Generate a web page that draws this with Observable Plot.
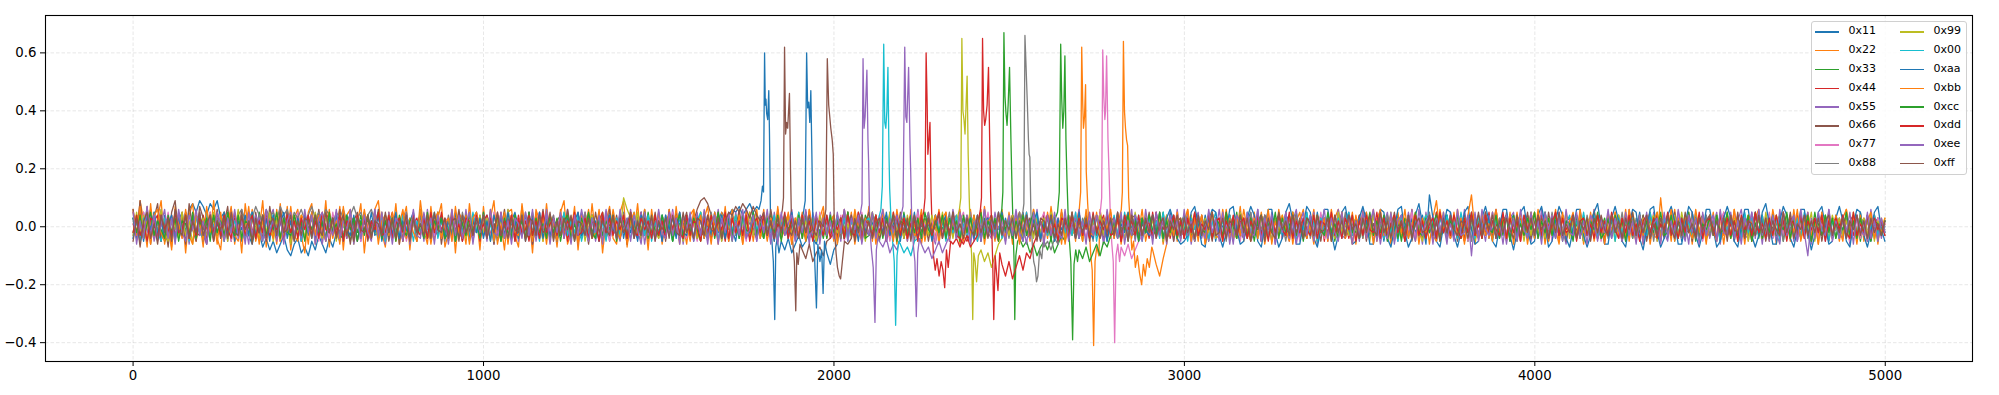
<!DOCTYPE html>
<html><head><meta charset="utf-8">
<script src="https://cdn.jsdelivr.net/npm/d3@7"></script>
<script src="https://cdn.jsdelivr.net/npm/@observablehq/plot@0.6"></script>
<style>
body{margin:0;background:#fff;}
#wrap{position:relative;width:1999px;height:395px;font-family:"DejaVu Sans",sans-serif;}
#wrap svg text{font-family:"DejaVu Sans",sans-serif !important;font-size:13.3px !important;fill:#000;}
#legend{position:absolute;left:1811px;top:21px;width:156px;height:154px;box-sizing:border-box;border:1px solid #d0d0d0;border-radius:3px;background:rgba(255,255,255,0.85);}
.lab{position:absolute;font-size:11px;line-height:12px;color:#000;white-space:nowrap;}
.sw{position:absolute;height:1.5px;width:24px;}
</style></head><body><div id="wrap"></div>
<script>
const keys = ["0x11","0x22","0x33","0x44","0x55","0x66","0x77","0x88","0x99","0x00","0xaa","0xbb","0xcc","0xdd","0xee","0xff"];
const colors = ["#1f77b4","#ff7f0e","#2ca02c","#d62728","#9467bd","#8c564b","#e377c2","#7f7f7f","#bcbd22","#17becf","#1f77b4","#ff7f0e","#2ca02c","#d62728","#9467bd","#8c564b"];
const xTicks = [0,1000,2000,3000,4000,5000];
const yTicks = [-0.4,-0.2,0,0.2,0.4,0.6];

// background trace values (hundredths), evenly spaced over samples 0..4999
const n11 = [3,-2,5,-4,1,6,-3,2,-5,4,-1,3,-4,2,5,-2,6,8,5,9,7,4,8,6,9,3,5,-2,1,-4,2,-5,-1,-3,-6,0,-2,-7,-4,-8,-5,-9,-6,-3,-8,-10,-6,-4,-9,-7,
-10,-5,-8,-3,-6,-9,-4,-7,-2,-5,1,-3,3,-1,4,-4,2,-2,5,-3,0,3,-5,2,-1,4,-3,1,-4,2,5,-2,3,-4,1,-5,2,4,-3,0,-4,3,-2,5,-1,-3,2,-5,3,1,
-2,4,-3,1,-5,3,0,-4,2,5,-1,-3,4,-2,2,-4,5,-1,3,-3,1,-5,2,4,-2,3,-4,0,5,-3,2,-1,-4,3,-2,4,-5,1,3,-2,4,-3,0,2,-4,5,-2,-1,3,-3,
2,-4,1,3,-2,5,-3,0,4,-1,-3,2,-2,4,1,-4,3,2,5,3,4,6,5,7,4,6,8,5,7,9,6,0,0,0,0,-5,-8,-4,-9,-6,-3,-7,-5,-2,-4,-6,-1,-3,2,-2,
1,-3,3,-2,4,-1,-4,2,-2,3,-3,1,4,-2,2,-5,3,0,-3,4,-1,2,-4,3,-2,5,-3,1,-2,4,-4,2,0,-3,3,-1,4,-2,2,-5,3,-1,1,-4,2,4,-3,0,-2,3,
-2,4,-3,1,5,-2,-4,2,3,-3,1,-2,4,-4,2,-1,3,-3,5,-2,0,-4,3,1,-3,4,-2,2,-5,3,-1,2,-3,4,-2,0,3,-4,2,-1,4,-3,1,-2,3,-4,5,-1,-3,2,
-2,3,-4,2,1,-3,4,-2,3,-5,2,0,-3,4,-1,3,-2,-4,2,5,-3,1,-2,4,-4,2,3,-1,-3,2,4,-2,1,-4,3,-1,2,-3,5,-2,0,3,-4,1,-2,4,-3,2,-1,3,
-4,2,5,-3,1,-2,3,-5,2,0,-3,4,-1,2,-4,3,-2,1,4,-3,2,-5,3,-1,0,4,-3,2,-2,3,-4,1,3,-3,2,-1,5,-4,2,-2,3,-1,-4,2,4,-3,1,-2,3,-4,
2,0,-3,5,-2,1,-4,3,-1,2,-3,4,-2,2,-5,3,1,-2,4,-3,0,2,-4,3,-1,-3,4,-2,2,-1,5,-4,2,-2,3,-3,1,4,-4,2,-1,3,-5,2,0,-2,4,-3,2,-4,
3,-1,2,-4,4,-2,1,-3,3,0,-4,2,-2,5,-3,1,-1,4,-4,2,-2,3,-3,1,4,-5,2,-1,3,-2,1,-4,3,-2,2,-3,4,0,-3,2,-1,4,-4,2,-2,3,-5,1,3,-2,0];
const n22 = [6,-3,9,2,-7,8,-4,3,9,-6,1,-8,7,-2,5,-9,4,8,-5,2,-7,6,-3,9,-4,-8,5,1,7,-6,3,-9,8,-2,6,-5,-1,9,-7,4,2,-6,8,-4,7,-8,3,6,-3,-9,
5,8,-6,2,-4,9,-7,3,-2,7,-8,4,6,-5,1,8,-9,3,-4,6,9,-2,-7,5,-3,8,-6,2,7,-8,4,-5,9,-1,-6,7,-4,3,8,-7,-2,6,-9,5,2,-6,8,-3,4,-8,
7,-4,3,9,-6,1,-8,5,6,-3,-7,8,-2,4,-9,6,2,-5,8,-4,3,-7,5,9,-6,-2,7,-8,4,1,-5,8,-3,6,-9,2,7,-4,-6,5,9,-7,3,-2,8,-5,4,-8,6,-3,
5,-6,2,4,-5,7,-3,1,-6,4,6,-2,-5,3,7,-4,2,-6,5,-1,-4,6,-3,5,-6,2,4,-5,3,-2,6,-4,1,-5,7,-3,2,4,-6,3,-1,5,-4,6,-2,-5,3,7,-4,2,
-5,4,-2,6,-3,5,-6,1,4,-4,7,-5,2,-3,6,-1,-4,5,-6,3,2,-5,6,-3,4,-6,1,5,-2,-4,6,-3,5,-5,2,4,-6,3,-1,6,-4,2,-5,7,-3,4,-2,-5,6,-3,
4,-6,2,5,-4,3,-5,6,-1,-3,5,-4,7,-2,3,-6,4,-3,5,-5,2,6,-4,1,-5,3,6,-2,-4,5,-3,4,-6,2,5,-4,3,-2,6,-5,1,4,-3,5,-6,2,-1,4,-5,3,
-4,6,-2,3,-5,4,-6,2,5,-3,1,-5,6,-4,3,-2,7,-5,2,-4,5,-3,4,-6,1,3,-5,6,-2,-3,4,-6,2,5,-4,3,-1,6,-5,2,-3,4,-5,3,6,-4,1,-2,5,-6,
3,-4,5,-2,6,-5,2,-3,4,-6,1,5,-4,3,-2,6,-5,2,-3,4,-6,3,9,-2,4,-5,3,-4,6,-1,-5,3,4,-6,2,-3,5,-4,1,6,-3,2,-5,4,-2,5,-4,3,-6,2,
5,-3,4,-6,2,-2,6,-5,3,-4,1,5,-3,4,-6,2,-4,6,-2,3,-5,4,-3,5,-1,-4,6,-5,3,-2,4,-6,2,5,-3,-4,10,-2,3,-5,6,-4,2,-3,5,-6,3,-2,4,-4,
-2,5,-4,3,-6,4,-3,6,-5,2,-1,4,-5,3,6,-4,2,-3,5,-6,3,-2,4,-5,6,-3,1,-4,5,-2,3,-6,4,-1,5,-4,2,-5,3,6,-4,2,-3,5,-5,3,-2,4,-6,3,-2];
const n33 = [-2,4,-3,1,5,-4,2,-1,3,-5,4,-2,2,-4,3,1,-3,5,-2,0,-4,3,-1,4,-3,2,-5,3,1,-2,4,-4,2,-1,3,-3,5,-2,-4,3,1,-3,4,-2,2,-5,3,0,-3,4,
-1,3,-4,5,-2,1,-3,4,-4,2,3,-1,-5,3,-2,4,-3,2,-1,5,-3,1,4,-4,2,-2,3,-5,4,-1,2,-3,5,-2,-4,3,1,-3,4,-2,-1,4,-5,2,3,-3,1,-4,5,-2,
3,-2,4,-3,1,-5,3,2,-4,4,-1,3,-2,-4,5,-3,2,-1,4,-4,2,1,-3,4,-2,3,-5,2,-1,3,-4,4,-2,1,5,-3,-2,4,-3,2,0,-4,3,-2,4,-1,-3,5,-2,1,
-3,4,-2,3,-5,2,1,-4,4,-2,3,-3,5,-1,-2,4,-4,2,-3,3,1,-5,4,-2,2,-3,4,-1,-4,3,2,-2,5,-3,1,-4,3,-2,4,-1,-3,2,-5,4,-2,3,1,-4,3,-3,
2,-4,3,-1,5,-3,2,-2,-4,4,1,-3,3,-5,2,4,-2,-1,3,-4,5,-2,2,-3,4,-4,1,3,-2,-5,4,-1,2,-3,3,-4,5,-2,1,-3,4,-2,-3,3,-1,2,-4,4,0,0,
0,0,0,-4,-7,-5,-9,-6,-10,-7,-5,-8,-4,-9,-6,-3,-5,2,-2,3,-4,1,4,-3,2,-2,5,-4,3,-1,-3,4,-2,2,-5,3,1,-4,3,-2,4,-3,2,-1,5,-4,-2,3,-3,2,
-1,4,-4,2,3,-3,1,-5,4,-2,2,-3,4,-1,-2,5,-4,3,-2,1,-3,4,-5,2,3,-1,-4,4,-2,3,1,-3,5,-4,2,-2,3,-1,-4,4,-2,1,3,-5,2,4,-3,-1,3,-2,
4,-3,2,-1,5,-4,3,-2,-3,4,-1,2,-5,3,1,-3,4,-2,2,-4,3,-1,5,-3,-2,4,-4,1,3,-2,2,-5,4,-1,-3,3,-2,4,-4,2,1,-3,4,-2,3,-5,2,-1,4,-3,
-2,3,-4,5,-1,2,-3,4,-5,2,3,-2,1,-4,4,-3,2,5,-4,-1,3,-3,2,-2,4,-5,1,3,-4,2,-1,4,-3,2,-2,5,-4,1,3,-3,2,-4,4,-1,-2,3,-5,2,4,-3,
1,-2,4,-4,3,-1,2,-5,3,-2,4,-3,-1,5,-4,2,-2,3,-3,1,4,-5,2,-1,3,-4,4,-2,1,-3,5,-2,-3,4,-1,2,-4,3,-2,4,-3,1,3,-5,2,-2,4,-3,2,-1,2];
const n44 = [1,-3,5,-2,3,-4,2,4,-5,1,-2,4,-3,2,-1,5,-4,3,-2,-3,4,-1,2,-5,3,1,-4,4,-2,3,-3,2,-4,5,-1,-2,3,-4,2,4,-3,1,-5,3,2,-2,4,-3,1,-4,
3,-2,4,-1,-4,2,5,-3,1,-2,4,-4,2,3,-5,1,-1,4,-3,2,-2,3,-4,1,5,-3,2,-2,4,-5,1,3,-2,4,-4,2,-1,-3,5,-2,3,-4,1,2,-3,4,-2,-1,3,-5,
2,4,-3,1,-2,5,-4,3,-1,-3,4,-2,2,-5,3,1,-4,4,-2,3,-3,2,-1,4,-5,2,3,-2,-4,4,-1,3,-3,2,5,-4,1,-2,3,-4,2,-1,4,-3,-2,5,-3,2,-4,1,
-2,3,-4,4,-1,2,-5,3,2,-3,1,4,-2,-3,4,-4,3,-1,2,-5,4,-2,3,-3,1,-4,5,-2,2,-1,-3,4,-2,3,-5,2,1,-4,4,-2,3,-3,5,-1,-2,4,-4,2,-3,3,
1,-4,2,5,-3,2,-2,4,-5,1,3,-2,4,-4,2,-1,-3,5,-2,3,-4,1,4,-3,2,0,0,0,0,0,0,0,0,0,-6,-4,-7,-3,-5,-2,2,-4,3,-1,4,-3,2,-5,3,1,
-2,4,-3,2,-4,5,-1,3,-2,-4,4,-3,1,2,-5,3,-2,4,-1,-3,5,-4,2,-2,3,-3,1,4,-4,2,-1,3,-5,2,4,-2,-3,3,-2,1,-4,5,-3,2,-1,4,-4,2,3,-3,
2,-3,4,-5,1,3,-2,4,-4,2,-1,-3,5,-2,3,-4,2,1,-3,4,-2,3,-5,4,-1,2,-3,3,-4,5,-2,1,4,-3,2,-4,3,-1,-2,4,-5,3,2,-3,4,-2,1,-4,3,-1,
4,-3,2,-1,5,-4,3,-2,-3,4,-4,2,1,-5,3,-2,4,-3,2,-1,3,-4,5,-2,1,-3,4,-4,2,3,-5,2,-1,4,-3,3,-2,5,-4,1,-2,3,-3,4,-1,2,-5,3,-2,4,
-3,2,4,-4,1,-2,5,-3,3,-1,2,-4,4,-2,-3,3,-1,5,-4,2,-2,4,-3,1,3,-5,2,-2,4,-3,1,3,-4,2,-1,4,-5,3,-2,2,-3,5,-1,-4,3,-2,2,-3,4,-4,
3,-1,2,-4,5,-3,1,-2,4,-4,2,3,-5,1,-2,4,-3,2,-1,3,-4,5,-2,2,-3,4,-4,1,3,-2,-1,4,-3,2,-5,3,2,-4,4,-2,1,-3,4,-2,3,-5,2,-1,3,-3,1];
const n55 = [-4,3,-6,5,-2,4,-5,1,6,-3,-5,2,-4,6,-1,3,-6,4,-2,5,-3,-6,4,-1,5,-4,2,-5,6,-2,3,-4,1,-6,5,-3,4,-2,-5,3,6,-4,2,-3,5,-6,1,4,-5,3,
-2,5,-4,3,-6,2,4,-3,5,-5,1,-4,6,-2,3,-5,4,-1,-3,6,-4,2,-6,5,-2,3,-4,1,5,-6,3,-2,4,-5,6,-3,-1,5,-4,2,-6,4,-2,3,-5,6,-3,1,4,-4,
5,-3,2,-6,4,-1,-4,6,-2,3,-5,4,-3,5,-6,2,1,-4,6,-3,2,-5,4,-2,6,-4,3,-6,1,5,-3,4,-5,2,-2,6,-4,3,-1,-5,4,-3,6,-2,-4,5,-6,2,3,-4,
1,-5,4,-3,6,-2,5,-6,3,-1,-4,5,-3,2,-6,4,-2,6,-5,1,3,-4,5,-2,-3,6,-4,2,-5,4,-1,3,-6,5,-2,4,-3,1,6,-5,2,-4,3,-6,5,-1,-3,4,-2,5,
-4,2,-5,6,-3,4,-1,0,0,0,0,0,0,-5,-7,-4,-9,-6,-8,-4,3,-5,2,-3,6,-4,1,5,-2,-6,4,-3,2,-5,6,-1,-4,3,-2,5,-5,4,-3,6,-2,-4,5,-1,3,-6,
4,-2,5,-4,1,-6,3,-3,6,-5,2,4,-4,3,-6,5,-2,-1,4,-3,6,-5,2,-4,3,-2,5,-6,1,4,-3,5,-4,2,-1,6,-5,3,-3,-2,4,-6,5,-1,2,-4,3,-5,6,-2,
-3,4,-6,2,5,-4,1,-5,3,-2,6,-3,4,-6,2,-1,5,-4,3,-5,-2,6,-4,1,-3,5,-6,4,-2,3,-5,2,6,-4,-1,4,-3,5,-6,2,3,-5,4,-2,6,-3,-4,5,-1,2,
-5,6,-2,4,-4,3,-6,1,5,-3,2,-5,4,-1,-3,6,-4,2,-6,5,-2,3,-5,4,1,-6,5,-3,2,-4,6,-2,-4,5,-3,1,-5,4,-2,6,-3,2,-6,3,5,-4,1,-2,4,-5,
3,-4,6,-2,-5,4,-3,5,-1,-6,2,4,-3,5,-5,1,-2,6,-4,3,-6,5,-1,2,-4,3,-5,6,-3,1,4,-6,2,-3,5,-4,3,-2,-5,6,-1,4,-4,2,-6,5,-3,3,-2,4,
-4,1,5,-6,3,-2,4,-5,2,6,-3,-4,5,-2,3,-6,4,-1,2,-5,6,-3,-2,4,-5,3,-4,1,5,-6,2,-3,4,-5,6,-2,-1,3,-4,5,-6,2,4,-3,1,-5,6,-2,3,-4,2];
const n66 = [6,-4,9,-2,7,-6,3,8,-5,2,-7,5,9,-3,4,-6,8,-1,-5,7,3,-6,5,-2,6,-4,1,7,-5,3,-3,6,-4,2,-6,5,-2,4,-5,7,-1,-4,6,-3,5,-6,2,4,-5,3,
-2,5,-4,6,-3,1,-5,4,-1,6,-4,3,-6,2,5,-3,4,-5,1,-2,6,-4,3,-5,2,4,-6,5,-1,-3,4,-5,6,-2,3,-4,1,5,-6,2,-3,4,-2,6,-5,3,-1,-4,5,-3,
4,-2,5,-6,3,-1,6,-4,2,-5,1,4,-3,5,-6,2,-2,6,-4,3,-5,2,4,-3,6,-1,-4,5,-2,3,-6,4,1,-5,3,-3,6,-2,4,-4,2,-6,5,-1,3,-4,6,-3,-2,5,
-4,3,-5,6,-2,4,-3,1,5,-4,2,6,9,10,8,4,-3,5,-2,3,-5,4,-1,6,-3,2,-4,5,-2,3,4,-3,6,-1,-4,0,0,0,0,0,0,-8,-11,-6,-12,-9,-7,-10,-5,-4,
-2,3,-4,2,-1,4,-5,3,-2,1,5,-3,2,-4,3,-1,4,-2,-3,5,-4,2,1,-3,4,-2,3,-5,2,-1,4,-3,3,-2,5,-4,1,-2,4,-3,2,-5,3,1,-2,4,-4,3,-1,2,
-3,4,-2,5,-4,1,3,-3,2,-5,4,-1,-2,3,-4,5,-3,2,1,-4,3,-2,4,-5,2,-1,3,-4,5,-2,-3,4,-1,2,-5,3,4,-3,1,-2,5,-4,2,-3,3,-1,4,-5,2,3,
-4,2,-1,5,-3,4,-2,1,-5,3,2,-4,4,-2,3,-3,5,-1,-4,2,1,-3,4,-5,3,-2,2,4,-4,1,-2,5,-3,3,-1,-4,4,-2,2,-5,3,1,-3,4,-2,5,-4,2,-1,3,
-3,4,-5,2,1,-2,4,-4,3,-1,5,-3,2,-2,4,-5,1,3,-4,2,-1,4,-3,5,-2,2,-4,3,-5,1,4,-2,3,-3,2,-4,5,-1,-2,3,-4,2,4,-5,1,-3,3,-2,5,-4,
2,-1,3,-4,5,-2,2,-3,4,-5,1,3,-2,4,-4,2,-1,5,-3,3,-5,2,-2,4,-1,3,-4,5,-3,1,-2,4,-5,2,3,-3,1,-4,4,-2,5,-3,2,-1,3,-5,4,-2,1,-3,
4,-2,3,-5,2,-1,4,-3,5,-4,2,1,-3,4,-2,3,-5,2,-1,4,-4,3,-2,5,-3,1,-4,2,4,-5,3,-1,2,-4,5,-3,1,-2,3,-4,2,4,-5,3,-1,2,-3,4,-2,1,-3];
const n77 = [-3,4,-2,5,-5,2,3,-4,1,-2,5,-3,4,-1,-4,3,-5,2,4,-3,1,-2,5,-4,3,-1,-3,4,-5,2,3,-4,2,-2,5,-3,1,4,-4,2,-1,3,-5,4,-2,2,-3,5,-1,-4,
4,-2,3,-5,1,2,-4,5,-3,3,-2,-1,4,-4,2,-5,3,1,-3,4,-2,5,-4,2,-1,3,-3,4,-5,1,2,-4,3,-2,5,-1,-3,4,-4,2,3,-5,1,-2,4,-3,2,-4,5,-1,
-2,3,-4,5,-3,1,2,-5,4,-2,3,-1,-3,4,-4,2,5,-3,1,-2,4,-5,3,-1,2,-4,4,-2,-3,5,-1,2,-4,3,-2,4,-5,1,3,-3,2,-2,5,-4,1,-3,4,-1,2,-5,
3,-4,2,-1,5,-3,4,-2,-4,3,1,-5,4,-2,2,-3,5,-1,-3,4,-4,2,3,-2,1,-5,4,-3,2,-1,5,-4,3,-2,-3,4,-1,2,-5,3,-2,4,-3,1,2,-4,5,-2,3,-3,
1,-2,4,-5,3,-1,2,-4,5,-3,2,-2,-3,4,-1,3,-5,2,4,-4,1,-3,3,-2,5,-4,2,-1,3,-5,4,-2,1,-3,4,-4,2,5,-3,-1,3,-4,2,-2,5,-3,1,-4,3,-2,
4,-3,2,-5,3,-1,-2,4,-4,2,5,-3,1,-2,3,-4,4,-1,-3,5,-2,2,-4,3,-1,4,0,0,0,0,0,0,-7,-10,-6,-11,-8,-5,-3,2,-2,3,-4,1,4,-3,2,-2,5,-4,
2,-1,3,-5,4,-2,1,-3,5,-4,3,-2,-1,4,-3,2,-5,3,1,-2,4,-4,2,-3,5,-1,-2,3,-4,4,-3,1,2,-5,3,-2,4,-1,-3,5,-4,2,-2,3,1,-4,4,-3,2,-1,
-3,5,-2,1,-4,3,-1,4,-5,2,2,-3,4,-2,-1,5,-4,3,-3,1,-2,4,-5,2,3,-1,-4,4,-2,3,1,-5,3,-2,4,-3,2,-1,5,-4,-2,3,-3,4,-1,2,-5,3,1,-2,
4,-4,2,-1,3,-5,1,3,-2,4,-3,2,-4,5,-2,-1,3,-3,4,-5,2,1,-2,4,-4,3,-1,5,-3,2,-4,3,-2,1,4,-5,3,-1,-2,4,-3,5,-4,2,-1,3,-2,4,-5,1,
-1,3,-4,2,5,-3,-2,4,-4,1,3,-5,2,-2,4,-1,-3,5,-4,2,1,-3,4,-2,3,-5,2,-1,4,-3,3,-4,1,-2,5,-3,2,-4,4,-1,-5,3,2,-4,1,-2,4,-3,3,-2,1];
const n88 = [2,-3,4,-1,3,-4,5,-2,1,3,-4,2,-1,4,-3,5,-2,2,-4,3,1,-3,4,-2,3,-1,5,-4,2,-2,4,6,2,5,3,7,4,1,6,3,5,2,7,4,6,1,5,3,6,2,
4,7,3,5,2,6,4,1,5,3,6,2,4,7,3,5,1,4,6,2,3,-2,4,-3,1,-4,3,-1,5,-2,2,-4,3,1,-3,4,-2,-1,3,-5,4,-2,2,-3,5,-1,-4,3,-2,4,
-3,1,4,-4,2,-2,3,-5,4,-1,2,-3,5,-2,-1,4,-4,3,-2,1,4,-5,2,-3,3,-1,4,-2,-4,5,-2,3,-3,1,4,-4,2,-1,3,-3,5,-2,1,-4,3,-2,4,-5,2,1,
-3,4,-2,3,-4,1,5,-3,2,-2,4,-4,3,-1,-3,5,-2,2,-4,3,-1,4,-3,2,-5,3,1,-2,4,-4,2,-1,3,-3,5,-4,2,-2,3,-1,-4,4,-2,1,3,-5,2,-3,4,-2,
3,-1,-4,4,-2,2,-3,5,-1,-2,3,-4,4,-2,1,-3,5,-4,2,-1,3,-2,4,-5,2,1,-3,4,-2,3,-4,2,-1,5,-3,2,-4,3,-2,4,-1,-3,3,-4,2,1,-2,4,-3,2,
-4,3,-2,5,0,0,0,0,0,0,-7,-5,-8,-4,-6,2,-3,4,-2,1,-4,3,-1,2,-5,4,-3,2,-1,3,-4,5,-2,1,-3,4,-4,2,3,-2,-1,4,-3,2,-5,3,-2,4,-1,-3,
4,-2,3,-4,1,2,-3,5,-4,2,-1,3,-5,4,-2,1,-3,3,-4,5,-2,2,-1,4,-3,2,-4,3,1,-5,3,-2,4,-1,-3,5,-4,2,-2,3,-3,1,4,-4,2,-2,5,-3,1,-1,
3,-4,2,-2,5,-3,1,-4,4,-1,-3,2,3,-5,4,-2,2,-1,3,-4,5,-3,1,-2,4,-4,2,-3,3,-1,-2,4,-5,3,1,-3,4,-2,2,-4,3,-1,5,-4,2,-2,-3,4,-1,3,
-4,2,-2,3,-3,5,-1,-2,4,-4,1,3,-3,2,-5,4,-2,1,3,-3,2,-4,4,-1,-2,5,-3,2,-4,3,-1,2,-3,4,-5,3,-2,1,4,-3,2,-1,-4,3,-2,5,-3,2,-1,4,
-3,2,-5,4,1,-2,3,-4,2,-1,4,-3,3,-2,5,-4,1,-1,3,-3,2,-5,4,-2,3,-1,-3,4,-4,2,1,-2,5,-3,2,-4,3,-1,-2,4,-4,3,-2,2,-3,4,-1,3,-5,2,-1];
const n99 = [-3,5,-2,4,-5,1,3,-4,6,-2,-5,3,1,-4,5,-3,2,-6,4,-1,3,-4,2,5,-3,-1,4,-5,3,-2,6,-4,2,-3,5,-1,-4,3,-2,5,-5,2,4,-3,1,-6,3,-2,4,-4,
2,-3,5,-1,-4,4,-2,3,-5,2,1,-3,4,-6,3,-1,5,-4,2,-2,-3,5,-2,4,-4,1,3,-5,2,-1,4,-3,6,-2,-4,3,-1,5,-3,2,-5,4,-2,1,3,-4,5,-3,-1,4,
-2,3,-5,4,-1,2,-4,6,-3,1,-4,5,-2,3,-3,-1,4,-5,2,3,-4,2,-3,5,-1,-2,4,-4,3,-5,2,4,-3,1,-5,3,-2,4,-1,-3,10,6,3,-2,5,-4,2,-3,4,-1,
-4,3,-2,5,-3,1,4,-5,2,-2,3,-4,5,-1,-3,4,-2,2,-5,3,1,-3,4,-4,2,-1,5,-3,3,-2,-4,4,-1,2,-5,3,-2,4,-3,1,5,-4,2,-2,3,-5,4,-1,-3,2,
4,-2,3,-4,1,-3,5,-2,2,-5,3,-1,4,-3,2,-4,5,-2,-1,3,-4,4,-2,1,-5,3,2,-3,4,-1,-2,5,-3,2,-4,3,0,0,0,0,0,0,-8,-12,-9,-14,-10,-6,-4,2,
-3,4,-2,3,-5,2,1,-4,4,-2,3,-3,5,-1,-2,4,-4,2,-3,1,4,-5,3,-2,2,-1,4,-3,5,-4,1,-2,3,-4,2,-3,5,-1,-4,4,-2,2,-1,3,-5,4,-3,2,1,-4,
3,-1,4,-5,2,-3,3,-2,5,-4,1,2,-3,4,-2,-4,5,-1,3,-3,2,-4,4,-2,1,-5,3,-1,4,-2,-3,5,-4,2,-1,3,-2,4,-5,1,3,-3,2,-4,5,-2,1,-3,4,-1,
-4,3,2,-5,4,-1,-2,3,-3,5,-2,1,4,-4,2,-3,3,-1,-5,4,2,-2,3,-4,5,-3,1,-2,4,-4,3,-1,2,-5,4,-3,2,-2,5,-1,-3,4,-4,1,3,-2,2,-5,3,-3,
5,-2,1,-4,3,-3,4,-1,-2,5,-4,2,-3,4,-5,3,1,-2,4,-4,2,-1,3,-5,4,-2,2,-3,5,-1,-4,3,-2,1,4,-5,3,-1,2,-3,4,-4,5,-2,1,-3,3,-2,4,-5,
2,-3,4,-1,-2,5,-4,3,-3,1,4,-5,2,-2,3,-4,5,-1,-3,4,-2,1,3,-4,2,-3,4,-2,-1,5,-5,3,-2,2,-4,4,-1,3,-3,2,-4,5,-2,1,3,-3,4,-5,2,-1,3];
const n00 = [-4,2,-5,3,1,-3,4,-2,-5,3,2,-4,5,-1,-3,4,-5,2,3,-2,-4,5,-3,1,-2,4,-5,3,-1,2,-3,4,-4,2,5,-3,1,-5,3,-2,4,-1,-4,3,-2,5,-3,2,-5,1,
3,-4,2,-2,4,-5,1,3,-3,2,-5,4,-1,-2,3,-4,5,-3,2,-1,-4,3,-5,2,4,-2,-3,4,-1,3,-5,2,-2,4,-3,1,5,-4,2,-3,-1,4,-5,3,-2,2,-4,5,-1,-3,
4,-3,1,-5,3,-2,4,-4,2,-1,-3,5,-2,3,-4,1,-5,4,-2,2,3,-4,-1,5,-3,2,-2,4,-5,1,-3,3,-4,2,1,-5,4,-2,3,-3,2,-1,-4,5,-2,3,-3,4,-5,2,
-2,4,-3,1,-5,3,2,-4,4,-1,-3,2,5,-4,1,-2,3,-5,4,-3,2,-1,4,-4,3,-2,-3,5,-1,2,-4,3,-2,4,-5,1,3,-3,2,-4,5,-2,-1,3,-4,2,-3,4,-2,1,
-3,4,-2,3,-5,2,-1,4,-4,2,3,-3,1,0,0,0,0,0,0,-6,-9,-7,-10,-5,-4,3,-3,2,-4,4,-1,2,-5,3,-2,4,-3,1,-4,3,2,-5,4,-1,-3,3,-2,5,-4,2,
-1,3,-4,2,-2,5,-3,1,4,-4,2,-3,3,-1,-5,4,-2,2,-3,5,-4,1,3,-2,4,-5,2,-1,3,-3,4,-2,-4,5,-1,2,-3,4,-5,1,3,-2,2,-4,5,-3,1,-2,4,-4,
2,-5,3,-1,4,-3,2,-4,1,5,-3,2,-2,4,-4,3,-1,-3,5,-2,1,-4,4,-2,3,-5,2,1,-3,4,-2,3,-4,2,-1,5,-3,2,-5,3,-2,4,-1,-3,3,-4,2,5,-3,1,
-4,3,-2,4,-3,1,5,-4,2,-2,3,-5,4,-1,2,-3,3,-4,1,4,-2,2,-5,3,-1,4,-3,2,-4,5,-1,-2,3,-4,4,-3,1,2,-5,3,-2,4,-3,1,3,-4,2,-1,-3,5,
-4,2,-1,3,-5,4,-2,3,-3,1,4,-4,2,-2,5,-3,-1,4,-4,2,1,-3,4,-5,3,-2,2,-1,4,-4,3,-2,-3,5,-1,2,-4,3,-2,4,-5,1,3,-3,2,-4,5,-2,1,-3,
4,-2,2,-5,3,-1,4,-3,1,-4,5,-2,3,-3,-1,4,-4,2,-2,3,-5,4,-1,2,-3,3,-4,5,-2,1,-3,4,-2,3,-5,2,1,-4,4,-1,-2,3,-4,5,-3,2,-1,4,-3,2,-2];
const naa = [3,-4,2,-5,4,-1,5,-3,2,-4,1,4,-5,3,-2,5,-4,2,-3,4,-5,2,3,-4,1,-2,5,-3,4,-5,2,-1,4,-3,5,-4,2,-2,3,-5,4,-3,1,5,-4,2,-5,3,-1,4,
-3,5,-4,2,1,-5,3,-2,4,-4,5,-1,-3,4,-5,2,3,-4,2,-2,4,-5,1,3,-3,5,-4,2,-1,-4,3,-2,5,-3,2,-5,4,-1,3,-4,2,-3,5,-4,1,4,-5,2,-2,3,
-4,2,-5,4,-1,3,-3,5,-2,2,-4,4,-5,1,3,-2,5,-4,2,-3,1,-5,4,-2,3,-4,2,5,-3,-1,4,-4,2,-5,3,-2,4,-1,-3,5,-4,3,-2,2,-5,4,1,-3,3,-4,
2,-5,4,-1,3,-4,5,-2,-3,4,-5,3,2,-4,1,-3,5,-2,4,-4,2,-1,-5,3,-3,4,-2,5,-4,1,3,-3,2,-5,4,-2,1,-4,5,-3,2,0,0,0,0,0,0,0,-9,-13,
-8,-6,3,-4,5,-2,2,-5,4,-1,-3,4,-4,2,-2,5,-3,1,3,-5,4,-2,-3,5,-4,2,-1,3,-5,4,-2,1,4,-4,3,-3,5,-2,-1,3,-4,4,-5,2,3,-3,1,-4,5,-2,
2,-4,3,-1,-5,4,-3,2,5,-4,1,-2,4,-5,3,-3,2,-1,4,-4,5,-3,2,-2,-4,4,-1,3,-5,2,3,-4,1,-2,5,-3,4,-5,2,-1,-3,4,-2,5,-4,3,6,2,-4,-6,
-5,-3,5,7,1,-6,-7,2,6,5,-3,-7,-2,6,7,-1,-6,-5,3,7,4,-5,-7,0,6,6,-2,-7,-4,5,8,2,-6,-6,1,7,5,-4,-7,-1,6,6,-2,-8,-3,5,7,0,-6,-5,
3,7,2,-6,-6,1,6,5,-4,-7,-1,6,7,-2,-7,-4,4,8,1,-6,11,3,-5,-7,0,6,5,-3,-7,-2,5,7,-1,-6,-5,3,7,2,-5,-7,0,6,6,-3,-8,-2,5,7,-1,-6,
-5,4,7,1,-7,-5,2,7,4,-4,-7,-1,6,6,-3,-7,-3,5,8,0,-6,-6,3,7,2,-5,-7,1,6,5,-4,-8,-1,6,7,-2,-7,-4,4,7,2,-6,-6,1,7,5,-3,-7,-2,6,
6,-1,-7,-5,3,7,3,-5,-7,0,6,6,-3,-7,-3,5,8,1,-6,-6,2,7,4,-4,-7,-1,6,6,-2,-8,-3,5,7,0,-6,-5,3,7,2,-5,-7,1,6,5,-3,-7,-2,5,7,-1,-5];
const nbb = [5,-3,7,-4,2,-6,4,6,-2,-5,3,-7,5,1,-4,6,-3,-6,4,2,-5,7,-2,3,-6,5,-4,1,6,-3,-5,4,-2,7,-4,3,-6,2,5,-1,-4,6,-5,3,-2,7,-3,-5,4,2,
-6,5,-3,4,-1,-5,6,-4,2,-6,7,-2,3,-5,4,-3,6,-1,-4,5,-6,2,4,-3,5,-5,1,6,-4,3,-2,-5,6,-3,4,-6,2,5,-4,1,3,-5,7,-2,-4,4,-6,3,5,-3,
2,-4,6,-5,3,-1,5,-6,4,-2,-3,7,-4,2,-5,5,-2,3,-6,4,1,-5,6,-3,2,-4,5,-6,3,-1,6,-4,-2,5,-5,3,-3,6,-1,-4,4,-6,2,5,-3,-2,6,-5,3,-4,
5,-2,-4,6,-3,4,-6,2,1,-5,6,-3,4,-4,2,-6,5,-1,-3,7,-5,3,-2,4,-6,5,-3,1,6,-4,2,-5,3,-2,6,-4,-1,5,-6,3,-3,4,-5,6,-2,2,-4,5,-3,1,
4,-6,3,-2,5,-4,6,-1,-5,3,-3,5,-6,2,4,-4,1,-5,6,-2,3,-4,5,-3,-2,6,-5,2,-1,4,-6,3,5,-4,2,-3,6,-5,1,-2,4,-3,6,-6,2,3,-5,4,-1,-4,
5,-2,3,-6,4,-1,-4,6,-3,2,-5,5,-2,3,-4,6,-6,1,4,-3,2,-5,6,-2,-3,5,-4,3,-1,6,-4,2,0,0,0,0,0,0,0,0,0,-8,-13,-17,-11,-6,3,-3,5,-4,
2,6,-5,3,-2,4,-6,1,5,-3,-4,6,-2,3,-5,4,-3,6,-1,-5,3,-4,5,-2,6,-6,2,-3,4,-1,-5,5,-3,2,6,-4,1,-6,4,-2,3,-5,6,-1,-3,5,-4,2,-6,4,
-2,5,-4,3,-6,2,6,-3,-1,4,-5,3,-2,6,-4,1,5,-6,3,-2,4,-3,-5,6,-1,2,-4,5,-3,3,-6,4,11,-2,-4,5,-3,1,-5,6,-2,3,-4,5,-6,2,4,-3,-1,5,
-4,6,-2,3,-5,4,-1,-6,5,-3,2,4,-4,6,-2,-3,5,-5,1,3,-6,4,-2,5,-3,2,-4,6,-1,-5,3,-3,4,-6,2,5,-4,1,-2,6,-5,3,-3,4,-1,-4,6,-2,3,-6,
4,-1,-5,5,-3,2,-4,6,-2,3,-6,4,1,-3,5,-4,2,-5,6,-1,-3,5,-4,3,-2,6,-5,1,4,-3,2,-6,5,-2,3,-4,4,-1,-5,6,-2,3,-6,4,-3,2,5,-4,1,-2,3];
const ncc = [3,-2,4,-4,1,5,-3,2,-1,-4,4,-2,3,-5,2,1,-3,4,-4,2,-1,3,-5,4,-2,2,-3,5,-1,-3,4,-4,2,1,-5,3,-2,4,-3,2,-1,5,-4,3,-2,-3,4,-1,2,-5,
3,-1,4,-3,2,-4,5,-2,1,-3,-4,4,-1,3,-5,2,-2,4,-3,1,5,-4,2,-2,3,-5,4,-1,-3,2,4,-3,1,-4,5,-2,2,-1,3,-4,-2,4,-5,3,1,-3,4,-2,2,-4,
5,-3,2,-1,4,-5,3,-2,-3,4,-1,2,-4,5,-3,3,-2,1,-4,4,-2,3,-5,2,4,-4,1,-3,3,-1,5,-2,-4,3,-3,2,-1,4,-5,3,2,-4,4,-2,1,-3,5,-4,2,-1,
-3,4,-2,3,-5,1,4,-4,2,-2,3,-1,-5,4,-3,2,-2,5,-4,1,3,-3,2,-4,4,-1,-2,5,-3,2,-4,3,1,-2,4,-5,3,-1,2,-3,4,-4,5,-2,-1,3,-3,2,-4,4,
-2,1,3,-4,5,-3,2,-1,4,-4,-3,5,-2,2,-4,3,-1,4,-5,2,1,-3,4,-2,3,-4,5,-1,-3,2,-2,4,-4,3,-1,2,-5,4,-2,3,-3,1,5,-4,2,-2,3,-5,4,-1,
3,-4,2,-2,4,-3,1,5,-4,2,-1,3,-5,4,0,0,0,0,0,0,-8,-11,-7,-12,-9,-6,-10,-5,-7,-3,2,-4,3,-1,4,-3,2,-5,3,-2,4,-1,-3,5,-4,2,-2,3,-4,1,
4,-3,2,-5,3,-1,-2,4,-4,3,1,-3,5,-2,2,-4,4,-1,-3,3,-5,2,4,-3,1,-2,5,-4,3,-2,-1,4,-3,2,-5,3,2,-4,4,-1,-3,5,-2,1,-4,3,-3,4,-2,2,
-4,3,-1,5,-3,2,-2,4,-5,1,3,-4,2,-1,4,-3,5,-2,-3,3,-2,1,4,-5,3,-3,2,-1,4,-4,2,-2,5,-3,1,-4,3,-1,-2,4,-4,2,3,-5,4,-2,1,-3,3,-1,
5,-4,2,-2,3,-3,4,-1,-4,2,1,-5,4,-2,3,-3,2,-1,5,-4,-2,3,-3,4,-1,2,-5,3,1,-3,4,-2,2,-4,3,-1,5,-3,-2,4,-3,1,2,-4,5,-2,3,-4,1,-1,
3,-3,4,-2,-1,5,-4,2,-3,3,-2,4,-5,1,3,-4,2,-2,4,-3,1,-1,5,-4,2,-3,3,-2,4,-5,2,1,-3,4,-2,3,-4,1,-1,5,-3,2,-4,3,-2,4,-5,2,1,-3,2];
const ndd = [-2,4,-3,1,-5,3,2,-4,4,-1,3,-3,5,-2,-1,4,-4,2,-3,3,1,-5,4,-2,2,-3,4,-1,-4,5,-2,3,-3,1,4,-4,2,-2,5,-3,1,-1,3,-5,4,-2,2,-4,3,-1,
4,-3,2,-4,5,-1,-2,3,-3,4,-5,2,1,-3,4,-2,3,-4,2,-1,5,-3,-2,4,-4,1,3,-5,2,-2,4,-1,-3,3,-4,5,-2,2,-1,3,-4,4,-2,1,-5,3,2,-3,4,-2,
1,-4,3,-2,5,-3,2,-1,4,-5,3,-2,-1,4,-3,2,-4,5,-2,1,3,-3,4,-4,2,-1,5,-3,-2,3,-4,2,1,-5,4,-2,3,-3,2,-1,4,-4,5,-2,-3,3,-1,2,-4,4,
-3,2,-4,5,-1,3,-2,-4,4,-3,2,1,-5,3,-2,4,-3,2,-1,5,-4,3,-2,2,-3,4,-5,1,3,-2,4,-3,2,-4,1,-1,5,-4,3,-2,-3,4,-2,2,-5,3,1,-3,4,-4,
2,-1,3,-4,4,-2,-3,5,-4,2,1,-3,4,-2,3,-5,2,-1,4,-3,3,-4,1,2,-5,4,-2,3,-3,1,5,-4,2,-2,3,-3,-4,-6,-3,-7,-5,-3,0,0,0,0,0,0,-13,-17,
-12,-18,-14,-10,-15,-9,-11,-6,-3,2,-2,4,-3,1,-5,3,2,-4,4,-2,3,-3,1,-4,5,-2,2,-1,4,-3,-2,3,-5,4,-1,2,-3,4,-4,2,1,-3,5,-2,3,-4,-1,4,-3,2,
-4,3,-2,5,-3,1,-1,4,-4,2,3,-5,2,-2,4,-3,1,3,-4,2,-1,4,-3,2,-5,3,-2,4,-1,-3,5,-4,2,-2,3,-1,-3,4,-4,2,1,-2,5,-3,2,-4,3,-1,4,-5,
2,-3,4,-1,-2,5,-4,3,-3,1,4,-2,2,-5,3,-1,4,-3,2,-4,1,3,-4,5,-2,2,-3,4,-1,-4,3,-2,5,-3,1,-4,4,-2,2,-1,-3,5,-4,3,-2,2,-5,4,-1,3,
-2,4,-3,2,-4,1,5,-3,3,-2,-1,4,-5,2,3,-3,1,-4,4,-2,2,-3,5,-1,-4,3,-2,4,-3,1,-5,2,4,-2,3,-4,1,-1,5,-3,2,-4,3,-2,4,-1,-3,5,-4,2,
3,-1,-4,4,-2,3,-3,2,-5,4,-1,2,-3,5,-2,1,-4,3,-3,4,-2,2,-5,3,1,-3,4,-4,2,-1,3,-2,4,-5,2,-3,3,-1,4,-2,-4,5,-3,1,-2,4,-4,3,-1,2,-3];
const nee = [5,-6,2,-4,7,-3,4,-5,1,6,-4,3,-6,5,-2,-5,4,-1,6,-3,2,-6,4,-4,5,1,-5,3,-2,6,-4,2,-6,5,-3,4,-1,-5,6,-2,3,-5,4,-6,2,5,-3,1,-4,6,
-2,4,-6,3,5,-5,1,-3,6,-4,2,-1,5,-6,3,-4,4,-2,-5,6,-3,5,-4,2,-6,3,1,-5,4,-2,6,-3,-4,5,-1,3,-6,4,-2,2,-5,6,-3,4,-4,1,5,-6,3,-2,
4,-5,6,-2,-3,5,-4,2,-6,3,1,-4,5,-3,6,-5,2,-1,4,-6,3,-2,5,-4,1,-6,4,-3,6,-1,-5,3,-2,4,-6,5,-3,1,-4,6,-2,3,-5,4,-1,-6,5,-3,2,-4,
6,-2,-4,5,-3,3,-6,4,-1,5,-5,2,-3,6,-4,1,4,-6,3,-2,5,-5,2,-3,6,-4,-1,4,-5,3,-2,6,-4,2,-6,5,-3,1,4,-5,3,-2,6,-4,-1,5,-6,3,-3,2,
-4,5,-2,6,-5,3,-1,4,-6,2,-3,5,-4,1,6,-5,3,-2,4,0,0,0,0,0,0,-6,-9,-7,-11,-8,-5,-9,-6,-3,3,-4,5,-2,4,-6,1,3,-5,6,-3,2,-4,5,-1,-5,
4,-3,6,-2,-5,3,-4,5,-1,2,-6,4,-3,5,-2,-4,6,-5,1,3,-4,2,-6,5,-3,4,-1,-5,6,-2,3,-4,5,-6,2,-3,4,1,-5,6,-2,-4,5,-3,3,-6,4,-1,2,-5,
6,-3,2,-5,4,-1,-4,6,-2,3,-5,5,-3,2,-6,4,1,-4,5,-2,-3,6,-5,3,-1,4,-6,2,-2,5,-4,3,-6,1,5,-3,4,-5,2,-1,6,-4,3,-2,-5,5,-3,4,-6,2,
-3,5,-4,1,6,-5,3,-2,-4,5,-6,2,4,-3,5,-1,-5,6,-3,2,4,-6,3,-2,5,-4,1,-5,6,-3,-2,4,-10,3,-5,6,-1,-3,5,-4,2,-6,4,-2,3,-5,6,-1,-4,5,
-3,2,-6,5,-1,4,-4,3,-5,6,-2,-3,5,-4,2,-6,4,1,-5,3,-2,6,-4,3,-1,-5,5,-3,2,-6,4,-2,5,-4,1,3,-6,5,-3,2,-4,6,-1,-5,4,-2,3,-6,5,-3,
1,4,-5,6,-2,-3,5,-4,2,-6,3,-1,5,-4,6,-3,2,-5,4,-2,-6,5,-3,1,4,-5,6,-2,-10,3,-4,5,-1,-3,6,-5,2,-4,3,-2,5,-6,4,-1,-3,5,-4,2,-5,3,-2];
const nff = [-5,3,-7,2,5,-4,1,-6,4,-2,3,-5,6,-1,-3,4,-4,2,-2,5,-3,1,4,-5,2,-1,3,-4,5,-2,-3,4,-1,2,-5,3,-2,4,-4,1,3,-3,5,-2,-1,4,-5,2,-3,3,
2,-4,4,-1,-3,5,-2,3,-4,1,4,-3,2,-5,3,-1,-2,4,-4,2,1,-3,5,-2,3,-4,2,-1,4,-5,3,-2,1,-3,4,-4,5,-1,-2,3,-4,2,3,-5,4,-2,1,-3,3,-1,
4,-4,2,-2,5,-3,1,-4,3,-1,-2,4,-5,3,2,-3,4,-2,-1,5,-4,2,-3,3,-1,4,-5,2,1,-3,3,-4,5,-2,2,-1,-3,4,-4,3,-2,1,5,-4,2,-3,3,-2,4,-5,
2,-1,3,-4,4,-2,-3,5,-2,1,-4,3,2,-3,4,-1,-2,3,-4,2,5,4,7,5,8,6,3,7,4,2,5,-3,2,-4,3,-2,4,-1,-3,2,-4,3,-2,4,-1,-3,2,0,0,0,
0,0,0,-9,-6,-4,3,-2,4,-3,2,-4,1,3,-3,2,-1,4,-4,2,-2,3,-5,4,-1,2,-3,3,-2,1,4,-4,2,-3,5,-2,1,-4,3,-1,-3,4,-2,2,-4,3,-1,5,-3,2,
-1,3,-4,2,-2,4,-3,1,-5,3,2,-2,4,-4,1,-3,3,-1,5,-4,2,-2,3,-3,4,-1,-4,2,-2,3,-3,5,-2,1,-4,4,-1,2,-3,3,-2,4,-4,1,3,-5,2,-1,4,-3,
3,-2,1,-4,4,-3,2,-1,5,-3,-2,3,-4,2,1,-3,4,-2,3,-5,2,-1,4,-3,3,-2,-4,5,-1,2,-3,4,-2,2,-4,3,1,-3,4,-2,-1,3,-5,4,-2,2,-3,4,-1,1,
-4,3,-2,4,-1,-3,5,-2,2,-4,3,-1,2,-3,4,-4,1,3,-2,-1,4,-3,2,-5,3,-2,4,-1,-3,2,1,-4,3,-2,5,-3,2,-1,4,-4,2,-2,3,-1,-4,4,-3,2,-2,3,
-3,4,-1,2,-4,3,-2,5,-3,1,-2,4,-4,2,-1,3,-5,3,-2,4,-1,-3,4,-2,2,-4,3,-1,5,-3,2,-2,4,-4,1,-3,3,-2,4,-1,-4,2,-3,5,-2,1,-4,3,-1,2,
4,-3,2,-2,3,-5,4,-1,-2,3,-4,2,1,-3,4,-2,3,-4,2,-1,-3,5,-2,3,-4,1,-1,4,-3,2,-2,3,-5,2,4,-3,1,-2,3,-4,2,-1,4,-3,2,-4,3,-2,1,-3,2];

// leakage peaks: [sample, correlation]
const s11 = [[1786,0.06],[1792,0.09],[1796,0.14],[1799,0.12],[1802,0.60],[1804,0.42],[1806,0.44],[1808,0.39],[1811,0.37],[1814,0.47],[1816,0.32],[1819,0.02],[1823,-0.05],[1827,-0.12],[1831,-0.32],[1834,-0.07],[1838,-0.04],[1843,-0.09]];
const s22 = [[2694,0.03],[2700,0.06],[2704,0.12],[2707,0.62],[2710,0.42],[2712,0.34],[2715,0.38],[2718,0.49],[2720,0.19],[2724,0.08],[2729,-0.02],[2733,-0.10],[2737,-0.15],[2741,-0.41],[2745,-0.12],[2750,-0.07],[2756,-0.10]];
const s33 = [[2474,0.03],[2479,0.06],[2482,0.12],[2485,0.67],[2488,0.45],[2491,0.39],[2494,0.35],[2497,0.42],[2501,0.55],[2505,0.30],[2508,0.14],[2511,0.0],[2514,-0.12],[2516,-0.32],[2519,-0.10],[2524,-0.05]];
const s44 = [[2250,0.02],[2256,0.05],[2260,0.10],[2263,0.60],[2266,0.42],[2268,0.25],[2271,0.30],[2274,0.36],[2277,0.12],[2280,0.0],[2284,-0.10],[2289,-0.15],[2294,-0.11],[2300,-0.17],[2306,-0.12],[2311,-0.15],[2316,-0.21],[2321,-0.08],[2326,-0.14],[2333,-0.05]];
const s55 = [[2068,0.02],[2076,0.05],[2080,0.08],[2083,0.58],[2086,0.34],[2089,0.38],[2094,0.54],[2097,0.30],[2099,0.22],[2102,0.0],[2107,-0.08],[2112,-0.14],[2117,-0.33],[2121,-0.08],[2126,-0.03]];
const s66 = [[1848,0.03],[1853,0.06],[1856,0.10],[1859,0.62],[1862,0.32],[1865,0.36],[1868,0.34],[1873,0.46],[1876,0.20],[1879,0.0],[1883,-0.06],[1887,-0.12],[1891,-0.29],[1894,-0.09],[1898,-0.13],[1903,-0.06]];
const s77 = [[2754,0.02],[2760,0.05],[2764,0.10],[2767,0.61],[2770,0.45],[2773,0.37],[2775,0.40],[2778,0.59],[2782,0.30],[2785,0.19],[2789,0.02],[2793,-0.06],[2797,-0.12],[2801,-0.40],[2805,-0.10],[2810,-0.06],[2815,-0.12]];
const s88 = [[2533,0.02],[2539,0.05],[2542,0.08],[2545,0.66],[2548,0.56],[2552,0.42],[2555,0.30],[2557,0.25],[2559,0.24],[2562,0.05],[2566,-0.06],[2570,-0.12],[2574,-0.14],[2578,-0.19],[2582,-0.17],[2587,-0.08],[2593,-0.11],[2598,-0.04]];
const s99 = [[2352,0.03],[2358,0.06],[2362,0.10],[2365,0.65],[2368,0.40],[2371,0.37],[2374,0.32],[2377,0.42],[2380,0.52],[2383,0.25],[2386,0.10],[2389,-0.02],[2393,-0.10],[2396,-0.32],[2399,-0.09],[2403,-0.12],[2407,-0.19],[2412,-0.10]];
const s00 = [[2128,0.03],[2134,0.06],[2138,0.14],[2142,0.63],[2145,0.36],[2148,0.34],[2151,0.40],[2154,0.55],[2157,0.25],[2159,0.13],[2163,0.02],[2168,-0.06],[2172,-0.12],[2176,-0.34],[2180,-0.10],[2185,-0.05]];
const saa = [[1908,0.02],[1913,0.05],[1918,0.09],[1922,0.60],[1925,0.41],[1928,0.43],[1931,0.36],[1934,0.47],[1937,0.25],[1940,0.0],[1944,-0.08],[1950,-0.28],[1954,-0.06],[1960,-0.12],[1965,-0.08],[1969,-0.23],[1973,-0.05]];
const sbb = [[2814,0.03],[2820,0.06],[2823,0.12],[2826,0.64],[2829,0.40],[2832,0.34],[2835,0.30],[2838,0.28],[2841,0.10],[2845,0.02],[2850,-0.08],[2855,-0.05],[2860,-0.14],[2866,-0.10],[2872,-0.16],[2878,-0.20],[2883,-0.13],[2888,-0.17],[2894,-0.11],[2900,-0.14],[2907,-0.07]];
const scc = [[2632,0.03],[2638,0.05],[2643,0.12],[2647,0.63],[2650,0.44],[2653,0.34],[2656,0.40],[2659,0.59],[2662,0.30],[2665,0.16],[2668,0.05],[2672,-0.05],[2676,-0.12],[2681,-0.39],[2685,-0.13],[2690,-0.08],[2695,-0.12]];
const sdd = [[2412,0.02],[2418,0.06],[2421,0.10],[2424,0.65],[2427,0.40],[2430,0.35],[2433,0.37],[2437,0.42],[2441,0.55],[2445,0.25],[2447,0.12],[2450,0.0],[2453,-0.12],[2456,-0.32],[2460,-0.10],[2464,-0.16],[2468,-0.22],[2473,-0.09]];
const see = [[2190,0.03],[2197,0.07],[2202,0.62],[2205,0.38],[2208,0.36],[2213,0.55],[2217,0.28],[2219,0.19],[2222,0.02],[2227,-0.07],[2231,-0.12],[2235,-0.31],[2239,-0.09],[2244,-0.04]];
const sff = [[1972,0.02],[1977,0.06],[1981,0.58],[1985,0.42],[1991,0.34],[1995,0.30],[1998,0.25],[2001,0.0],[2006,-0.09],[2010,-0.14],[2015,-0.17],[2019,-0.18],[2024,-0.12],[2030,-0.05]];

const noiseList = [n11,n22,n33,n44,n55,n66,n77,n88,n99,n00,naa,nbb,ncc,ndd,nee,nff];
const spikeList = [s11,s22,s33,s44,s55,s66,s77,s88,s99,s00,saa,sbb,scc,sdd,see,sff];

function buildSeries(key, noise, spike) {
  const step = 4999 / (noise.length - 1);
  const lo = spike[0][0], hi = spike[spike.length - 1][0];
  const pts = [];
  noise.forEach((v, i) => { const x = i * step; if (x < lo || x > hi) pts.push({x, y: v / 100, key}); });
  spike.forEach(([x, y]) => pts.push({x, y, key}));
  pts.sort((a, b) => a.x - b.x);
  return pts;
}
const data = keys.flatMap((k, i) => buildSeries(k, noiseList[i], spikeList[i]));

const fmtY = d => d.toFixed(1).replace("-", "\u2212");
const gridStyle = {stroke: "#b0b0b0", strokeOpacity: 0.38, strokeDasharray: "3.5,2", strokeWidth: 0.8};

const chart = Plot.plot({
  width: 1999, height: 395,
  marginLeft: 45, marginRight: 27, marginTop: 15, marginBottom: 34,
  x: {domain: [-249.95, 5248.95]},
  y: {domain: [-0.465, 0.729]},
  color: {domain: keys, range: colors},
  style: {fontFamily: "DejaVu Sans, sans-serif", fontSize: "13.3px", background: "#fff", color: "#000"},
  marks: [
    Plot.gridX(xTicks, gridStyle),
    Plot.gridY(yTicks, gridStyle),
    Plot.line(data, {x: "x", y: "y", z: "key", stroke: "key", strokeWidth: 1.3}),
    Plot.frame({stroke: "#000", strokeWidth: 1.1}),
    Plot.axisX(xTicks, {tickSize: 5, tickPadding: 4, label: null, fontSize: 13.3, tickFormat: d => String(d)}),
    Plot.axisY(yTicks, {tickSize: 5, tickPadding: 4, label: null, fontSize: 13.3, tickFormat: fmtY})
  ]
});
const wrap = document.getElementById("wrap");
wrap.appendChild(chart);

const legend = document.createElement("div");
legend.id = "legend";
keys.forEach((k, i) => {
  const col = i < 8 ? 0 : 1, row = i % 8;
  const cy = 9.7 + row * 18.85;
  const sw = document.createElement("div");
  sw.className = "sw";
  sw.style.background = colors[i];
  sw.style.left = (3.3 + col * 85) + "px";
  sw.style.top = (cy - 0.7) + "px";
  const lab = document.createElement("div");
  lab.className = "lab";
  lab.textContent = k;
  lab.style.left = (36.6 + col * 85) + "px";
  lab.style.top = (cy - 6.5) + "px";
  legend.appendChild(sw);
  legend.appendChild(lab);
});
wrap.appendChild(legend);
</script></body></html>
